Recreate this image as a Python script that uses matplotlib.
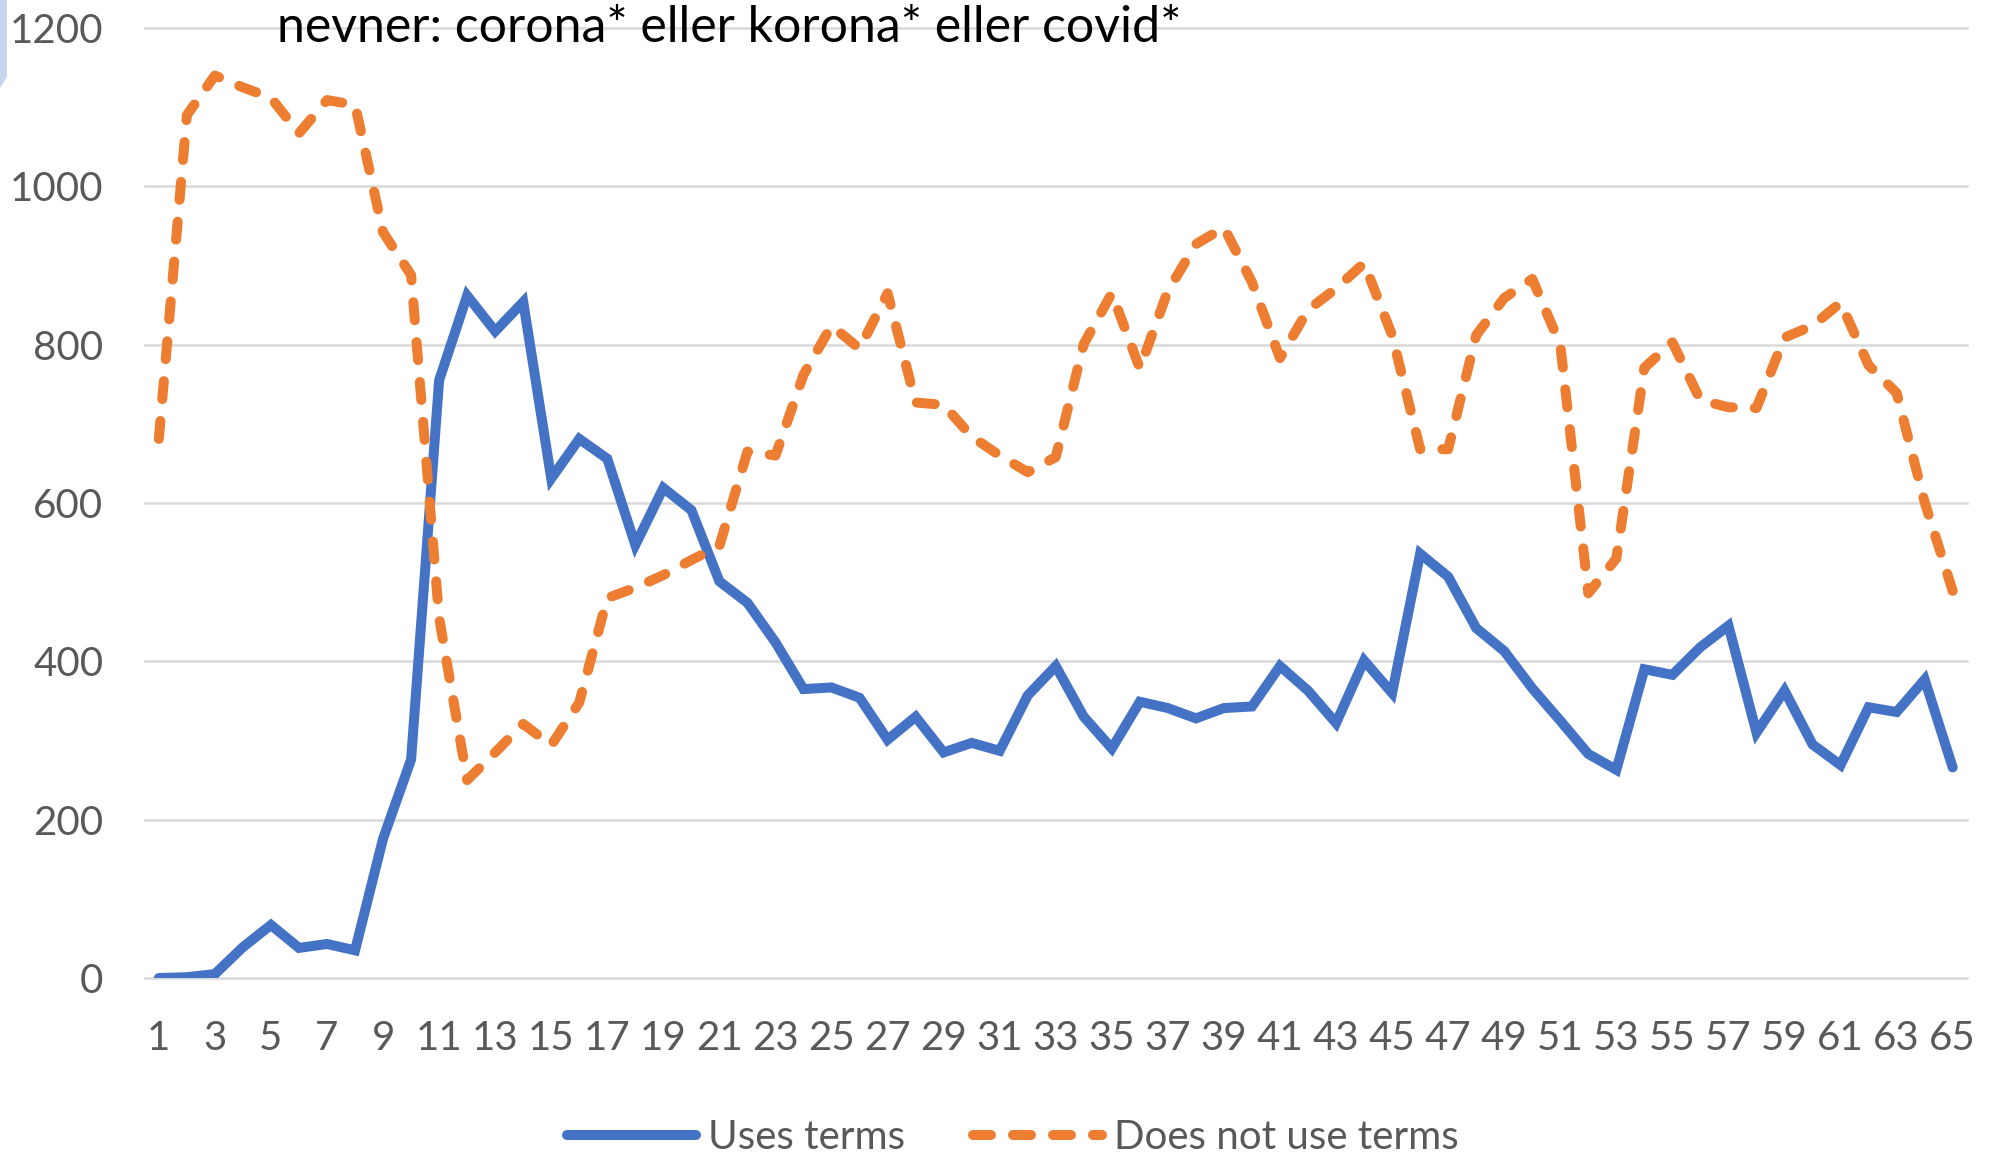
import matplotlib
matplotlib.use('Agg')
import matplotlib.pyplot as plt
from matplotlib.patches import Polygon

# week numbers and counts
weeks = list(range(1, 66))
uses_terms = [0, 1, 5, 39, 67, 38, 43, 35, 176, 276,
              755, 862, 817, 854, 631, 681, 656, 547, 619, 591,
              501, 474, 424, 365, 367, 354, 301, 330, 285, 297,
              287, 357, 394, 330, 290, 349, 341, 328, 341, 343,
              394, 363, 322, 401, 360, 536, 507, 442, 413, 366,
              325, 283, 263, 390, 383, 418, 445, 310, 363, 295,
              269, 342, 336, 377, 266]
not_uses_terms = [681, 1090, 1140, 1125, 1112, 1067, 1109, 1103, 942, 888,
                  455, 250, 285, 321, 294, 348, 480, 493, 509, 528,
                  546, 665, 660, 762, 824, 795, 865, 727, 724, 684,
                  660, 639, 658, 801, 865, 770, 868, 927, 948, 879,
                  783, 844, 871, 903, 812, 668, 668, 812, 859, 883,
                  800, 486, 530, 771, 803, 730, 721, 720, 809, 824,
                  853, 774, 739, 601, 489]
xtick_labels = [str(w) for w in weeks[::2]]
yticks = [0, 200, 400, 600, 800, 1000, 1200]
title = 'nevner: corona* eller korona* eller covid*'

plt.rcParams['font.family'] = ['Lato', 'DejaVu Sans']

fig = plt.figure(figsize=(19.92, 11.54), dpi=100)
ax = fig.add_axes([0.0727, 0.1525, 0.9146, 0.8232])

ax.plot(weeks, uses_terms, color='#4472C4', lw=7.2, solid_joinstyle='miter',
        solid_capstyle='round', label='Uses terms', zorder=3)
ax.plot(weeks, not_uses_terms, color='#ED7D31', lw=7.2, dashes=(1.8, 2.2),
        dash_capstyle='round', label='Does not use terms', zorder=4)

ax.set_xlim(0.5, 65.5)
ax.set_ylim(0, 1200)
ax.set_xticks(weeks[::2])
ax.set_xticklabels(xtick_labels)
ax.set_yticks(yticks)
ax.tick_params(axis='both', length=0, labelsize=29, labelcolor='#595959')
ax.tick_params(axis='y', pad=30)
ax.tick_params(axis='x', pad=30)
ax.yaxis.grid(True, color='#d9d9d9', lw=1.8)
for gl in ax.get_ygridlines():
    gl.set_clip_on(False)
for s in ax.spines.values():
    s.set_visible(False)

fig.text(0.139, 0.9757, title, fontsize=36, color='black', va='center', ha='left')

fig.legend(loc='center', bbox_to_anchor=(0.5085, 0.014), ncol=2, frameon=False,
           fontsize=29, labelcolor='#595959', handlelength=3.2, handletextpad=0.3,
           columnspacing=1.7, borderpad=0)

# light strip at top-left edge of the original screenshot
fig.patches.append(Polygon([(0, 1), (0.0035, 1), (0.0035, 1 - 77 / 1154), (0, 1 - 88 / 1154)],
                           closed=True, transform=fig.transFigure, facecolor='#c8d3ee',
                           edgecolor='none'))

plt.savefig('out.png', dpi=100)
